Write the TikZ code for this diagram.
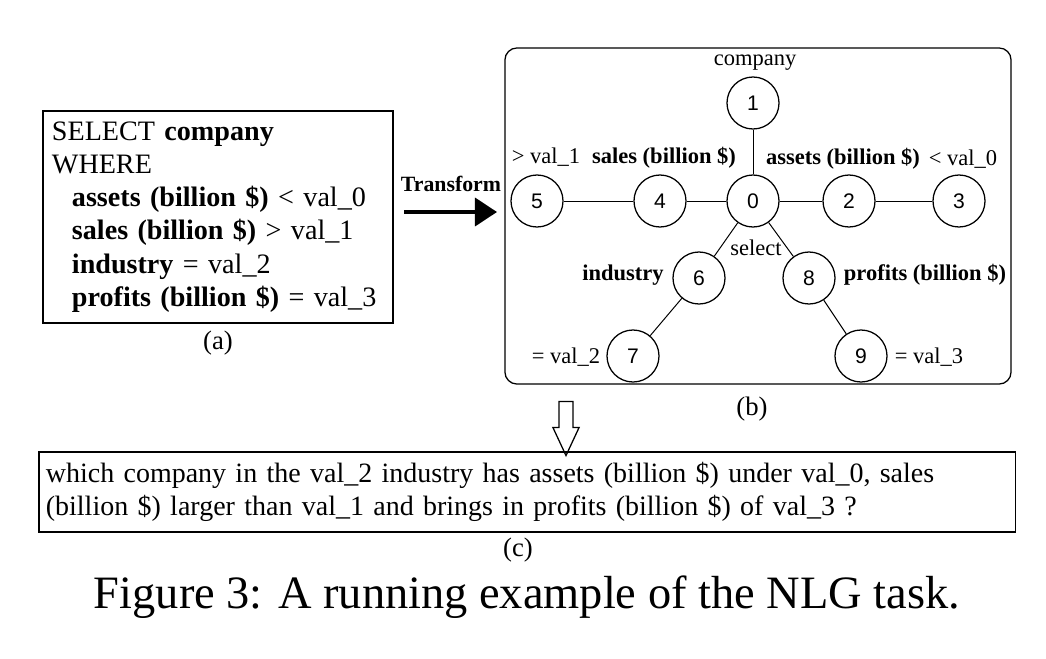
\documentclass[tikz,border=0pt]{standalone}
\usepackage{fontspec}
\setmainfont{Liberation Serif}
\setsansfont{Liberation Sans}
\usetikzlibrary{arrows.meta,positioning,shapes.arrows}
\tikzset{frame/.style={draw,line width=0.9pt,inner sep=0pt,align=left},vtx/.style={circle,draw,line width=0.9pt,minimum size=1.3cm,inner sep=0pt,font=\sffamily\fontsize{15}{18}\selectfont},edge/.style={line width=0.7pt},lbl/.style={inner sep=0pt,font=\fontsize{16}{19}\selectfont},key/.style={inner sep=0pt,font=\fontsize{16}{19}\selectfont\bfseries},sublbl/.style={inner sep=0pt,font=\fontsize{19}{23}\selectfont},flow/.style={-{Triangle[length=5.5mm,width=7mm]},line width=2.6pt},hollow/.style={draw,line width=0.9pt,single arrow,shape border rotate=270,inner sep=0.16cm,minimum height=1.35cm,single arrow head extend=0.15cm,single arrow tip angle=50,single arrow head indent=0pt}}

\begin{document}
\begin{tikzpicture}[x=0.025cm,y=-0.025cm]
\useasboundingbox (0,0) rectangle (1046,658);
% (a) query
\node[frame,minimum width=8.75cm,minimum height=5.3cm,text width=8.3cm,font=\fontsize{20}{23.7}\selectfont] (qry) at (218,217) {SELECT \textbf{company}\\WHERE\\\hspace*{0.5cm}\textbf{assets (billion \$)} < val\_0\\\hspace*{0.5cm}\textbf{sales (billion \$)} > val\_1\\\hspace*{0.5cm}\textbf{industry} = val\_2\\\hspace*{0.5cm}\textbf{profits (billion \$)} = val\_3};
\node[sublbl] (capa) at (218,343) {(a)};
\coordinate (t0) at (404,212); \coordinate (t1) at (497,212);
\draw[flow] (t0)--(t1);
\node[key,font=\fontsize{15.5}{18}\selectfont\bfseries] (tf) at (451,184) {Transform};
% (b) graph
\node[draw,line width=0.9pt,rounded corners=0.3cm,minimum width=12.65cm,minimum height=8.4cm] (grp) at (758,216) {};
\node[vtx] (n0) at (753,201) {0};
\node[vtx] (n1) at (753,103) {1};
\node[vtx] (n2) at (849,201) {2};
\node[vtx] (n3) at (959,201) {3};
\node[vtx] (n4) at (660,201) {4};
\node[vtx] (n5) at (537,201) {5};
\node[vtx] (n6) at (699,278) {6};
\node[vtx] (n7) at (633,356) {7};
\node[vtx] (n8) at (809,278) {8};
\node[vtx] (n9) at (861,356) {9};
\foreach \a/\b in {n0/n1,n0/n2,n2/n3,n0/n4,n4/n5,n0/n6,n6/n7,n0/n8,n8/n9} \draw[edge] (\a)--(\b);
\node[lbl] (l1) at (755,63) {company};
\node[lbl] (l5) at (546,157) {> val\_1};
\node[key] (l4) at (664,158) {sales (billion \$)};
\node[key] (l2) at (843,159) {assets (billion \$)};
\node[lbl] (l3) at (963,159) {< val\_0};
\node[lbl] (l0) at (756,248) {select};
\node[key] (l6) at (623,275) {industry};
\node[key] (l8) at (925,275) {profits (billion \$)};
\node[lbl] (l7) at (566,357) {= val\_2};
\node[lbl] (l9) at (929,357) {= val\_3};
\node[sublbl] (capb) at (752,409) {(b)};
\node[hollow] (down) at (566,421) {};
% (c) question
\node[frame,minimum width=24.4cm,minimum height=2cm,text width=24.05cm,font=\fontsize{19.9}{24}\selectfont] (qst) at (527,492) {which company in the val\_2 industry has assets (billion \$) under val\_0, sales\\(billion \$) larger than val\_1 and brings in profits (billion \$) of val\_3 ?};
\node[sublbl] (capc) at (518,550) {(c)};
\node[inner sep=0pt,font=\fontsize{33}{40}\selectfont] (fig) at (527,597) {Figure 3: A running example of the NLG task.};
\end{tikzpicture}
\end{document}
